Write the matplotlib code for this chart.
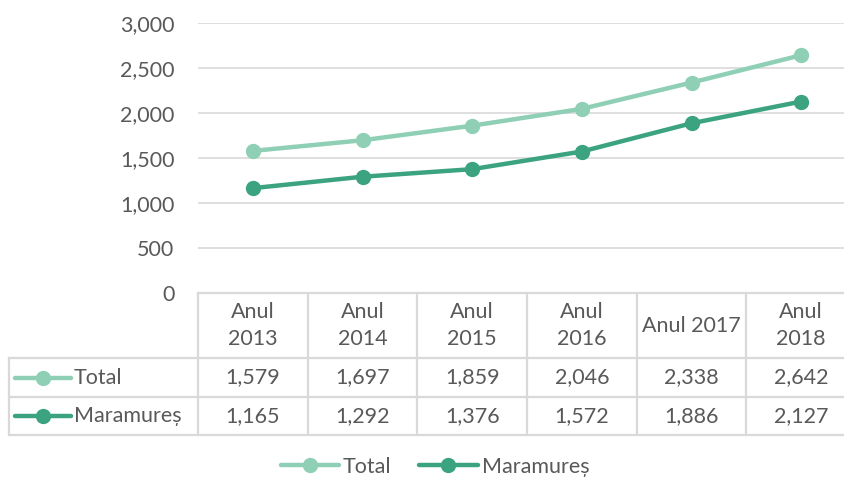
import numpy as np
import matplotlib.pyplot as plt
from matplotlib.lines import Line2D

plt.rcParams['font.family'] = ['Lato', 'DejaVu Sans']

# Date
ani = ['Anul\n2013', 'Anul\n2014', 'Anul\n2015', 'Anul\n2016', 'Anul 2017', 'Anul\n2018']
total = [1579, 1697, 1859, 2046, 2338, 2642]
maramures = [1165, 1292, 1376, 1572, 1886, 2127]
serii = [('Total', total, '#8FCFB5'), ('Maramureș', maramures, '#3BA380')]

W, H = 844, 480
text_col = '#595959'
grid_col = '#D9D9D9'
fs = 15.5

fig = plt.figure(figsize=(W / 100, H / 100), dpi=100)
# axa principala (pixeli -> fractii)
x0, x1, ytop, ybot = 198, 856, 23, 293
ax = fig.add_axes([x0 / W, 1 - ybot / H, (x1 - x0) / W, (ybot - ytop) / H])

x = np.arange(len(ani))
for nume, vals, col in serii:
    ax.plot(x, vals, color=col, lw=3.2, marker='o', ms=10, label=nume,
            solid_capstyle='round', zorder=3)

ax.set_xlim(-0.5, len(ani) - 0.5)
ax.set_ylim(0, 3000)
ax.set_yticks(range(0, 3001, 500))
ax.set_yticklabels([f'{v:,}' for v in range(0, 3001, 500)])
ax.set_xticks([])
ax.tick_params(axis='y', length=0, pad=17, labelsize=fs, labelcolor=text_col)
for s in ax.spines.values():
    s.set_visible(False)
ax.grid(axis='y', color=grid_col, lw=1.2)
ax.set_axisbelow(True)

# tabelul de date, in coordonate mixte (x date, y fractie axa)
h_ax = ybot - ytop
def fy(py):
    return -(py - ybot) / h_ax

unit = (x1 - x0) / len(ani)
x_left = -0.5 - (x0 - 9) / unit
rows = [293, 358, 397, 435]
tr = ax.get_xaxis_transform()
kw = dict(color=grid_col, lw=1.6, transform=tr, clip_on=False)

# linii orizontale
ax.plot([-0.5, len(ani) - 0.5], [fy(rows[0])] * 2, **kw)
for r in rows[1:]:
    ax.plot([x_left, len(ani) - 0.5], [fy(r)] * 2, **kw)
# linii verticale
for i in range(len(ani) + 1):
    ax.plot([i - 0.5] * 2, [fy(rows[0]), fy(rows[-1])], **kw)
ax.plot([x_left] * 2, [fy(rows[1]), fy(rows[-1])], **kw)

for i, a in enumerate(ani):
    ax.text(i, fy((rows[0] + rows[1]) / 2), a, ha='center', va='center',
            fontsize=fs, color=text_col, transform=tr, linespacing=1.4)

for k, (nume, vals, col) in enumerate(serii):
    yc = fy((rows[k + 1] + rows[k + 2]) / 2)
    for i, v in enumerate(vals):
        ax.text(i, yc, f'{v:,}', ha='center', va='center', fontsize=fs,
                color=text_col, transform=tr)
    lx0 = x_left + 6 / unit
    lx1 = x_left + 62 / unit
    ax.plot([lx0, lx1], [yc, yc], color=col, lw=3.2, transform=tr,
            clip_on=False, solid_capstyle='round')
    ax.plot([(lx0 + lx1) / 2], [yc], 'o', color=col, ms=10, transform=tr,
            clip_on=False)
    ax.text(lx1 + 3 / unit, yc, nume, ha='left', va='center', fontsize=fs,
            color=text_col, transform=tr)

# legenda de jos
handles = [Line2D([], [], color=c, lw=3.2, marker='o', ms=10,
                  solid_capstyle='round') for _, _, c in serii]
fig.legend(handles, [s[0] for s in serii], loc='center',
           bbox_to_anchor=(435 / W, 1 - 467 / H), ncol=2, frameon=False,
           fontsize=fs, labelcolor=text_col, handlelength=2.7,
           handletextpad=0.2, columnspacing=1.3)

fig.savefig('out.png', dpi=100)
